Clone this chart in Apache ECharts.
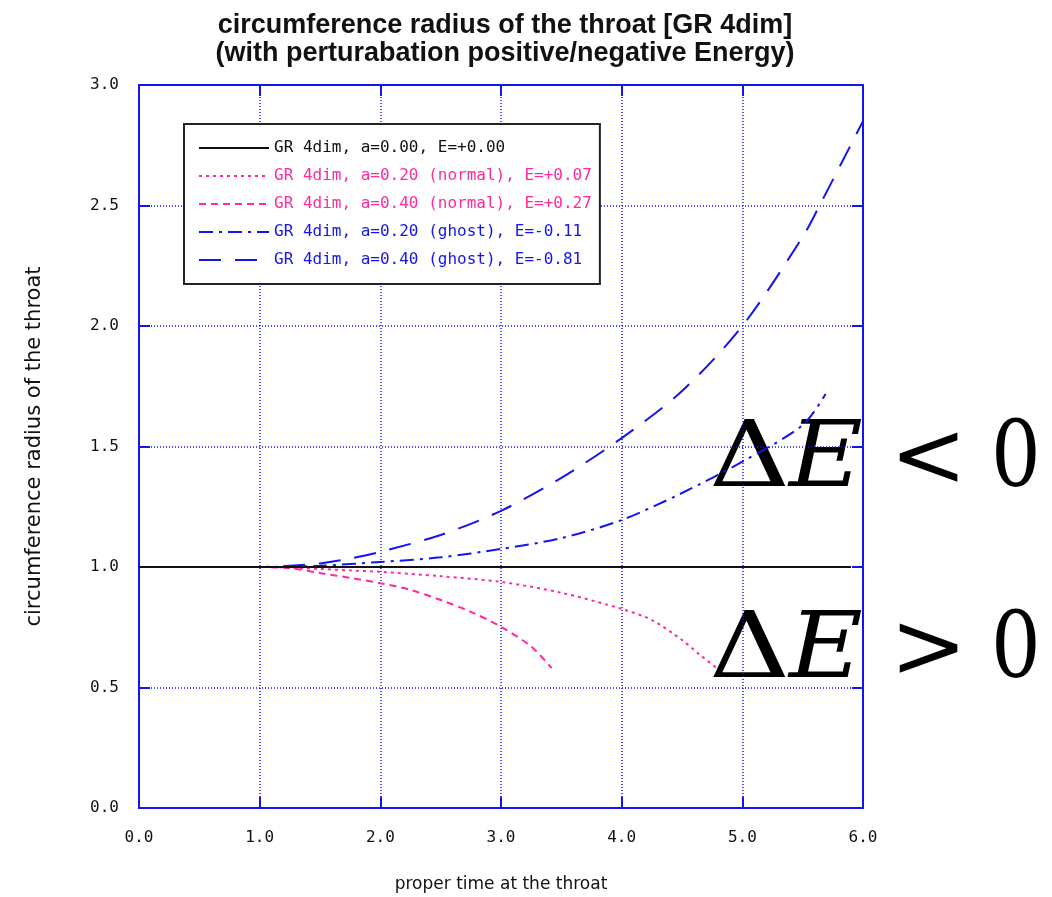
<!DOCTYPE html>
<html>
<head>
<meta charset="utf-8">
<script src="https://cdn.jsdelivr.net/npm/echarts@6/dist/echarts.min.js"></script>
<style>
  html, body { margin: 0; padding: 0; background: #fff; }
  #chart { width: 1052px; height: 897px; }
</style>
</head>
<body>
<div id="chart"></div>
<script>
// values (t = proper time, r = circumference radius)
const flatT = [0, 5.9];
const flatR = [1, 1];

const normal020T = [0, 1.0, 1.25, 1.5, 1.75, 2.0, 2.5, 3.0, 3.5, 4.0, 4.25, 4.5, 4.65, 4.79];
const normal020R = [1, 1, 0.998, 0.992, 0.986, 0.98, 0.962, 0.938, 0.893, 0.826, 0.78, 0.697, 0.635, 0.58];

const normal040T = [0, 1.0, 1.25, 1.5, 1.75, 2.0, 2.25, 2.5, 2.75, 3.0, 3.25, 3.42];
const normal040R = [1, 1, 0.995, 0.975, 0.955, 0.933, 0.905, 0.863, 0.814, 0.752, 0.67, 0.58];

const ghost020T = [0, 1.0, 1.5, 2.0, 2.5, 3.0, 3.5, 4.0, 4.5, 5.0, 5.5, 5.69];
const ghost020R = [1, 1, 1.005, 1.021, 1.04, 1.075, 1.12, 1.195, 1.307, 1.437, 1.589, 1.718];

const ghost040T = [0, 1.0, 1.25, 1.5, 1.75, 2.0, 2.5, 3.0, 3.5, 4.0, 4.5, 5.0, 5.5, 5.64, 6.0];
const ghost040R = [1, 1, 1.005, 1.015, 1.035, 1.063, 1.133, 1.233, 1.37, 1.535, 1.73, 2.0, 2.37, 2.5, 2.85];

const seriesNames = [
  'GR 4dim, a=0.00, E=+0.00',
  'GR 4dim, a=0.20 (normal), E=+0.07',
  'GR 4dim, a=0.40 (normal), E=+0.27',
  'GR 4dim, a=0.20 (ghost), E=-0.11',
  'GR 4dim, a=0.40 (ghost), E=-0.81'
];

const BLUE = '#1414f0';
const PINK = '#ff2a9d';
const MATH_FONT = '92px "DejaVu Serif"';

function pairs(t, r) {
  return t.map((v, i) => [v, r[i]]);
}

// one big "ΔE < 0" style annotation, placed piece by piece
function mathLabel(top, rel) {
  return [
    { type: 'text', left: 709, top: top, scaleX: 1.22, style: { text: 'Δ', font: MATH_FONT, fill: '#000' } },
    { type: 'text', left: 789, top: top, scaleX: 1.1, style: { text: 'E', font: 'italic ' + MATH_FONT, fill: '#000' } },
    { type: 'text', left: 890, top: top, style: { text: rel, font: MATH_FONT, fill: '#000' } },
    { type: 'text', left: 991, top: top, scaleX: 0.85, style: { text: '0', font: MATH_FONT, fill: '#000' } }
  ];
}

var myChart = echarts.init(document.getElementById('chart'));

function ticks() {
  return { show: true, inside: true, length: 11, lineStyle: { color: BLUE, width: 2 } };
}

myChart.setOption({
  animation: false,
  backgroundColor: '#fff',
  title: {
    text: 'circumference radius of the throat [GR 4dim]\n(with perturabation positive/negative Energy)',
    left: 500,
    textAlign: 'center',
    top: 7,
    textStyle: {
      fontFamily: 'Liberation Sans',
      fontWeight: 'bold',
      fontSize: 27,
      lineHeight: 28,
      color: '#111'
    }
  },
  grid: {
    left: 139,
    right: 189,
    top: 85,
    bottom: 89,
    outerBoundsMode: 'none',
    show: true,
    borderColor: BLUE,
    borderWidth: 2
  },
  legend: {
    orient: 'vertical',
    left: 184,
    top: 124,
    padding: [16, 8, 16, 14],
    itemWidth: 70,
    itemHeight: 16,
    itemGap: 12,
    backgroundColor: '#fff',
    borderColor: '#222',
    borderWidth: 2,
    borderRadius: 0,
    itemStyle: { opacity: 0 },
    textStyle: { fontFamily: 'DejaVu Sans Mono', fontSize: 16 },
    data: [
      { name: seriesNames[0], textStyle: { color: '#111' } },
      { name: seriesNames[1], textStyle: { color: PINK } },
      { name: seriesNames[2], textStyle: { color: PINK } },
      { name: seriesNames[3], textStyle: { color: BLUE } },
      { name: seriesNames[4], textStyle: { color: BLUE } }
    ]
  },
  xAxis: [{
    type: 'value',
    min: 0,
    max: 6,
    interval: 1,
    name: 'proper time at the throat',
    nameLocation: 'middle',
    nameGap: 68,
    nameTextStyle: { fontFamily: 'DejaVu Sans', fontSize: 17, color: '#111' },
    axisLine: { onZero: false, lineStyle: { color: BLUE, width: 2 } },
    axisTick: ticks(),
    axisLabel: {
      margin: 22,
      fontFamily: 'DejaVu Sans Mono',
      fontSize: 16,
      color: '#111',
      formatter: v => v.toFixed(1)
    },
    splitLine: { show: true, lineStyle: { color: BLUE, type: [1, 2], width: 1.5 } }
  }, {
    type: 'value',
    position: 'top',
    min: 0,
    max: 6,
    interval: 1,
    axisLine: { onZero: false, lineStyle: { color: BLUE, width: 2 } },
    axisTick: ticks(),
    axisLabel: { show: false },
    splitLine: { show: false }
  }],
  yAxis: [{
    type: 'value',
    min: 0,
    max: 3,
    interval: 0.5,
    name: 'circumference radius of the throat',
    nameLocation: 'middle',
    nameGap: 94,
    nameTextStyle: { fontFamily: 'DejaVu Sans', fontSize: 21, color: '#111' },
    axisLine: { show: true, onZero: false, lineStyle: { color: BLUE, width: 2 } },
    axisTick: ticks(),
    axisLabel: {
      margin: 20,
      fontFamily: 'DejaVu Sans Mono',
      fontSize: 16,
      color: '#111',
      formatter: v => v.toFixed(1)
    },
    splitLine: { show: true, lineStyle: { color: BLUE, type: [1, 2], width: 1.5 } }
  }, {
    type: 'value',
    position: 'right',
    min: 0,
    max: 3,
    interval: 0.5,
    axisLine: { show: true, onZero: false, lineStyle: { color: BLUE, width: 2 } },
    axisTick: ticks(),
    axisLabel: { show: false },
    splitLine: { show: false }
  }],
  graphic: mathLabel(416, '<').concat(mathLabel(607, '>')),
  series: [
    {
      name: seriesNames[4],
      type: 'line',
      data: pairs(ghost040T, ghost040R),
      symbol: 'none',
      smooth: 0.3,
      color: BLUE,
      lineStyle: { color: BLUE, width: 2, type: [22, 14] }
    },
    {
      name: seriesNames[3],
      type: 'line',
      data: pairs(ghost020T, ghost020R),
      symbol: 'none',
      smooth: 0.3,
      color: BLUE,
      lineStyle: { color: BLUE, width: 2, type: [14, 6, 3, 6] }
    },
    {
      name: seriesNames[2],
      type: 'line',
      data: pairs(normal040T, normal040R),
      symbol: 'none',
      smooth: 0.3,
      color: PINK,
      lineStyle: { color: PINK, width: 2, type: [7, 5] }
    },
    {
      name: seriesNames[1],
      type: 'line',
      data: pairs(normal020T, normal020R),
      symbol: 'none',
      smooth: 0.3,
      color: PINK,
      lineStyle: { color: PINK, width: 2, type: [3, 4] }
    },
    {
      name: seriesNames[0],
      type: 'line',
      data: pairs(flatT, flatR),
      symbol: 'none',
      color: '#111',
      z: 5,
      lineStyle: { color: '#111', width: 2, type: 'solid' }
    }
  ]
});
</script>
</body>
</html>
